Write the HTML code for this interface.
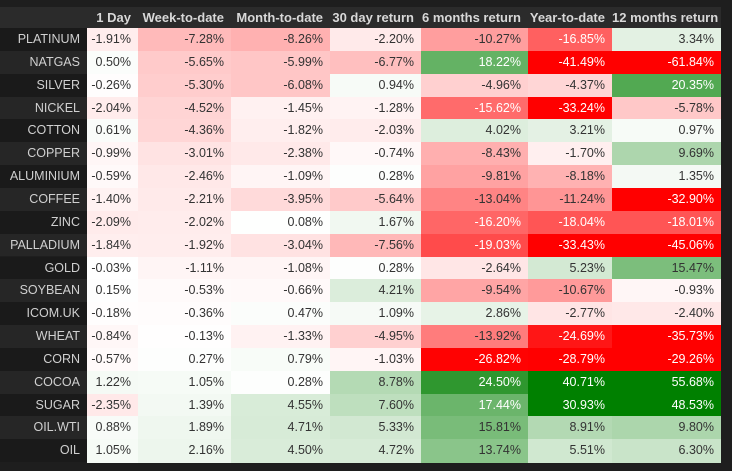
<!DOCTYPE html>
<html><head><meta charset="utf-8"><style>
body{margin:0;background:#1e1e1e;width:732px;height:471px;overflow:hidden;font-family:"Liberation Sans",sans-serif;}
#t{position:absolute;left:0;top:0;}
.c{position:absolute;box-sizing:border-box;text-align:right;padding-right:7px;font-size:12.5px;line-height:22.85px;white-space:nowrap;}
.h{font-weight:bold;color:#d8d8d8;background:#2b2b2b;line-height:21px;font-size:13px;}
.l{color:#d0d0d0;}
</style></head><body>
<div id="t"></div>
<script>
const headers=["1 Day","Week-to-date","Month-to-date","30 day return","6 months return","Year-to-date","12 months return"];
const assets=["PLATINUM","NATGAS","SILVER","NICKEL","COTTON","COPPER","ALUMINIUM","COFFEE","ZINC","PALLADIUM","GOLD","SOYBEAN","ICOM.UK","WHEAT","CORN","COCOA","SUGAR","OIL.WTI","OIL"];
const oneDay=[-1.91,0.50,-0.26,-2.04,0.61,-0.99,-0.59,-1.40,-2.09,-1.84,-0.03,0.15,-0.18,-0.84,-0.57,1.22,-2.35,0.88,1.05];
const weekToDate=[-7.28,-5.65,-5.30,-4.52,-4.36,-3.01,-2.46,-2.21,-2.02,-1.92,-1.11,-0.53,-0.36,-0.13,0.27,1.05,1.39,1.89,2.16];
const monthToDate=[-8.26,-5.99,-6.08,-1.45,-1.82,-2.38,-1.09,-3.95,0.08,-3.04,-1.08,-0.66,0.47,-1.33,0.79,0.28,4.55,4.71,4.50];
const day30=[-2.20,-6.77,0.94,-1.28,-2.03,-0.74,0.28,-5.64,1.67,-7.56,0.28,4.21,1.09,-4.95,-1.03,8.78,7.60,5.33,4.72];
const month6=[-10.27,18.22,-4.96,-15.62,4.02,-8.43,-9.81,-13.04,-16.20,-19.03,-2.64,-9.54,2.86,-13.92,-26.82,24.50,17.44,15.81,13.74];
const ytd=[-16.85,-41.49,-4.37,-33.24,3.21,-1.70,-8.18,-11.24,-18.04,-33.43,5.23,-10.67,-2.77,-24.69,-28.79,40.71,30.93,8.91,5.51];
const month12=[3.34,-61.84,20.35,-5.78,0.97,9.69,1.35,-32.90,-18.01,-45.06,15.47,-0.93,-2.40,-35.73,-29.26,55.68,48.53,9.80,6.30];
const cols=[oneDay,weekToDate,monthToDate,day30,month6,ytd,month12];
const negScale=27,posScale=30;
const xs=[0,87,138,231,330,421,528,612,721];
const top0=28,rh=22.85;
const t=document.getElementById('t');
function color(v){let r=Math.min(1,Math.abs(v)/(v<0?negScale:posScale));
 if(v<0)return [255,Math.round(255*(1-r)),Math.round(255*(1-r)),r];
 return [Math.round(255*(1-r)),Math.round(255-127*r),Math.round(255*(1-r)),r];}
function cell(x,y,w,h,cls,txt){const d=document.createElement('div');d.className='c '+cls;d.style.left=x+'px';d.style.top=y+'px';d.style.width=w+'px';d.style.height=h+'px';d.textContent=txt;t.appendChild(d);return d;}
const hb=cell(0,7,721,21,'h','');


headers.forEach((h,i)=>{const d=cell(xs[i+1],7,xs[i+2]-xs[i+1],21,'h',h);d.style.background='transparent';

});
assets.forEach((a,r)=>{const y=top0+r*rh;
 const lbl=cell(0,y,87,rh,'l',a);lbl.style.background=r%2?'#262626':'#1a1a1a';
 
 
 cols.forEach((c,i)=>{const v=c[r];const [R,G,B,k]=color(v);
  const d=cell(xs[i+1],y,xs[i+2]-xs[i+1],rh+0.5,'',v.toFixed(2)+'%');
  d.style.background=`rgb(${R},${G},${B})`;
  d.style.color=k>0.55?'#fff':'#333';
  
  });});
</script>
</body></html>
